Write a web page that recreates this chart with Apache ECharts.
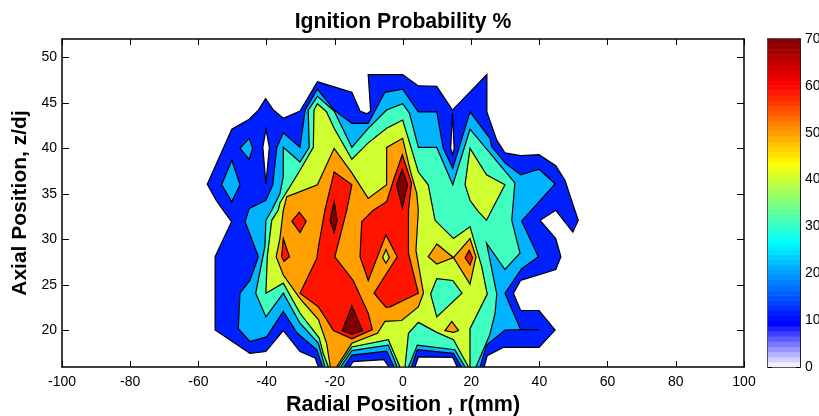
<!DOCTYPE html>
<html><head><meta charset="utf-8">
<style>html,body{margin:0;padding:0;background:#fff}#c{width:819px;height:416px}</style>
<script src="https://cdn.jsdelivr.net/npm/echarts@6/dist/echarts.min.js"></script>
</head><body><div id="c"></div>
<script>
// Contour outlines, as [r (mm), z/dj]
const level10 = [[-57.4,36.05],[-50.2,42.1],[-45.1,43.2],[-42.4,44.2],[-40.3,45.45],[-38,44.2],[-35.1,43.3],[-30.2,44.1],[-25.1,47.3],[-15,46.15],[-12.6,44.1],[-10.6,43.8],[-9.5,44.1],[-10.2,48.1],[-0.1,48.1],[4.5,46.85],[9.9,46.8],[14.5,44.2],[24.6,48.1],[24.6,44],[27.5,40.9],[29.9,39.5],[34.5,39.2],[39.9,39.3],[44.8,38.1],[47.5,36.5],[50.4,33.2],[51.4,32.1],[49.8,30.8],[44.8,33.2],[40.2,32.1],[44.8,30.1],[46.3,28.1],[44.8,26.7],[34.5,25.5],[32.4,24.1],[34.5,22.2],[39.9,22.2],[44.6,20.05],[39.9,18.15],[29.4,18.15],[24.7,17.25],[23.8,16],[15.9,16],[14.6,17.05],[4.5,17.1],[3.5,16],[-4.1,16],[-5.6,16.8],[-14.6,16.6],[-15.7,16],[-24.8,16],[-25.8,17],[-30.2,17.7],[-35.1,20],[-40.2,17.7],[-44.9,17.5],[-55.1,20.06],[-55.1,28.1],[-50.3,31.95],[-52.7,33.2],[-54.8,34.3]];
const holeA = [[-40.2,42.1],[-41.1,40.1],[-40.2,36.1],[-39.2,40.1]];
const holeB = [[14.5,43.85],[14,40],[14.6,39.3],[15,40]];
const level20 = [[-47.8,24.1],[-44.9,25.5],[-42.4,28.1],[-46.3,31.95],[-45.1,33.4],[-40.2,34.3],[-38.2,36],[-37,40.1],[-35.1,41.7],[-30.2,40.1],[-28.7,44.2],[-25.1,46.5],[-20.2,44.2],[-15,42.75],[-10.2,42.75],[-5.3,46.15],[-0.1,46.5],[4.5,44],[9.9,44],[11.8,40],[14.6,37.8],[19.65,44],[25.5,41.1],[26,40.2],[29.9,38.4],[34.5,37.1],[39.9,37.7],[44.6,36.1],[34.8,32],[39.7,28.1],[34.8,26.8],[29.9,24.1],[34.5,20.1],[39.9,20.1],[34.5,20.1],[29.9,20.06],[24.5,18.4],[22.6,16],[17.2,16],[14.8,17.5],[4.2,17.9],[2.5,16],[-2.6,16],[-4.8,17.75],[-15,17.3],[-17.3,16],[-23.6,16],[-25.3,17.9],[-31,19.7],[-35.1,22.1],[-40,19.3],[-44.9,18.8],[-48.3,20.2]];
const islandA20 = [[-50.2,38.7],[-53.2,36],[-50.2,34.15],[-47.8,36]];
const islandB20 = [[-45.1,41.1],[-47.8,40],[-45.1,38.8],[-44.1,40]];
const level30 = [[-43.2,24.1],[-40.5,29.2],[-40.2,32.1],[-38.5,33.2],[-36.1,35],[-35.1,36.9],[-35.1,40.1],[-30.2,38.5],[-27.5,40.1],[-27.8,44.2],[-25.1,45.7],[-20.2,44.1],[-15,40.1],[-10.2,42.2],[-4.8,44.2],[-0.1,44.9],[1.9,43.85],[4.5,40.1],[9.9,40.1],[14.6,36],[19.65,42.1],[32.8,36.2],[31.9,32.1],[34.3,28.5],[29.9,26.7],[24.5,29.6],[27.5,24],[27,21.9],[25.5,19.6],[21.4,16],[18.2,16],[15.2,17.9],[4.2,18.4],[1.6,16],[-1.7,16],[-4.3,18.4],[-15,17.8],[-18.3,16],[-22.9,16],[-24.8,18.6],[-30.2,20.8],[-35.1,24.1],[-40.2,21.5]];
const level40 = [[-40.2,24.1],[-39.8,28.1],[-38.5,32.1],[-36.6,33.2],[-36.1,34],[-30.2,37.6],[-26.3,40.1],[-26.1,44.2],[-25.1,44.9],[-22.4,44],[-20.2,42.2],[-15,38.8],[-10.2,40.6],[-4.8,42.2],[-0.1,43.1],[2.1,40.4],[4.5,37.4],[7.4,36],[9.4,32.1],[14.8,30.1],[19.65,31.4],[23.1,27],[24.7,24],[19.65,20.2],[19.65,16],[19.2,16],[14.8,19],[9.9,19.8],[4.5,20.9],[1.6,19.7],[0.6,16],[-0.9,16],[-4.3,19],[-15,18.2],[-19,16],[-21.9,16],[-23.4,17.5],[-24.6,19.2],[-30.2,21.9],[-35.1,25.2]];
const dip30 = [[9.9,25.7],[14.6,25.5],[17.3,24.1],[9.9,21.5],[8.1,24]];
const island40 = [[19.65,40],[24.5,37.1],[29.9,36],[26,33.2],[24.5,32.1],[21.8,33.2],[19.65,34.3],[18.2,36]];
const level50 = [[-37.2,28.1],[-36.1,30.1],[-35.1,33.2],[-34.1,34.7],[-30.2,35.25],[-25.1,36],[-20.2,40],[-15,37.3],[-10.2,34.5],[-4.8,36],[-4.8,40.1],[-0.1,41.1],[2.1,37.6],[4,35.1],[4.5,33.2],[3.8,28.8],[6,24.1],[4.5,22.6],[-0.4,21.1],[-5.3,21],[-7.5,19.7],[-15,18.6],[-19.5,16],[-21.3,16],[-22.4,18.6],[-24.8,21.2],[-30.2,23.5],[-35.1,26.1]];
const islandA50 = [[9.9,29.5],[7.4,28.1],[9.9,27.3],[14.8,28]];
const islandB50 = [[19.65,30.1],[14.8,28],[19.65,25.1],[21.4,28.1]];
const islandC50 = [[14.3,21],[12.3,20],[14.8,19.8],[16.3,20]];
const level60Left = [[-20.2,37.4],[-15,36],[-16.5,33.2],[-20,28.1],[-14.6,25.5],[-10.2,21.9],[-9,20.1],[-15,19.1],[-20.4,20],[-22.4,21.2],[-24.8,22.6],[-30.2,24.1],[-25.3,27.9],[-24.8,29.2],[-22.9,33.2]];
const level60Right = [[-12.1,31.95],[-8.7,33.2],[-4.8,34.15],[-2.8,36.5],[-0.2,39.3],[2.5,36.2],[1.6,33.2],[1.6,28.5],[4.5,24.1],[-3.8,22.6],[-5,22.55],[-8.5,24.1],[-1.7,28.1],[-5,30.5],[-10.2,25.5],[-12.6,28.1]];
const islandA60 = [[-30.4,33],[-32.6,32],[-30.2,30.75],[-28.4,32]];
const islandB60 = [[-35.1,30.1],[-35.6,28.1],[-34.9,27.6],[-33.3,28.1]];
const islandC60 = [[19.4,28.8],[18.2,28],[19.65,27.2],[20.4,28]];
const dip40 = [[-5,28.9],[-6,28],[-5,27.4],[-4,28]];
const peakA70 = [[-0.2,37.7],[-1.9,36],[-0.2,33.5],[1.3,36]];
const peakB70 = [[-20.2,34.15],[-21.4,32.1],[-20.2,30.75],[-19.3,32.1]];
const peakC70 = [[-15,22.7],[-17.8,20],[-15,19.6],[-11.9,20]];

const yTicks = [20,25,30,35,40,45,50];
const barTicks = [0,10,20,30,40,50,60,70];
// [value, r, g, b] anchor colours of the colour bar
const barStops = [[0,255,255,255],[9.4,0,0,255],[26.7,0,255,255],[43.5,255,255,0],[60.3,255,0,0],[70,128,0,0]];

const C = {white:'#ffffff',l10:'#0020ff',l20:'#00b4ff',l30:'#40ffc0',l40:'#cfff30',l50:'#ffa000',l60:'#ff1400',l70:'#800000'};
const layers = [
 [level10,C.l10],[holeA,C.white],[holeB,C.white],[islandA20,C.l20],[islandB20,C.l20],
 [level20,C.l20],[level30,C.l30],[level40,C.l40],[dip30,C.l30],[island40,C.l40],
 [level50,C.l50],[islandA50,C.l50],[islandB50,C.l50],[islandC50,C.l50],
 [level60Left,C.l60],[level60Right,C.l60],[islandA60,C.l60],[islandB60,C.l60],[islandC60,C.l60],
 [dip40,C.l40],[peakA70,C.l70],[peakB70,C.l70],[peakC70,C.l70]
];
const barSteps = 64;
function barColor(v){
  for(let i=1;i<barStops.length;i++){
    const a=barStops[i-1],b=barStops[i];
    if(v<=b[0]){const t=(v-a[0])/(b[0]-a[0]);
      return 'rgb('+[1,2,3].map(k=>Math.round(a[k]+(b[k]-a[k])*t)).join(',')+')';}
  }
  return 'rgb(128,0,0)';
}
const font='"Liberation Sans",Arial,sans-serif';
const line={lineStyle:{color:'#000',width:1.5}};
const chart=echarts.init(document.getElementById('c'),null,{renderer:'canvas'});
const xBase={type:'value',min:-100,max:100,interval:20,gridIndex:0,splitLine:{show:false},
  axisLine:{onZero:false,...line},axisTick:{inside:true,length:6,lineStyle:{color:'#000',width:1}}};
const yBase={type:'value',min:16,max:52,gridIndex:0,splitLine:{show:false},
  axisLine:{onZero:false,...line},axisTick:{inside:true,length:7,customValues:yTicks,lineStyle:{color:'#000',width:1}}};
const barEdge={type:'value',min:0,max:1,gridIndex:1,splitLine:{show:false},axisLabel:{show:false},axisTick:{show:false},
  axisLine:{onZero:false,lineStyle:{color:'#222',width:1.5}}};
chart.setOption({
  animation:false,backgroundColor:'#fff',
  title:{text:'Ignition Probability %',left:398,top:7,textAlign:'center',
    textStyle:{fontFamily:font,fontWeight:'bold',fontSize:21.2,color:'#000'}},
  grid:[{left:62,top:39,width:682,height:328,outerBoundsMode:'none'},
        {left:768,top:39,width:32,height:328,outerBoundsMode:'none'}],
  xAxis:[
    {...xBase,position:'bottom',axisLabel:{fontFamily:font,fontSize:14,color:'#000',margin:8},
     name:'Radial Position , r(mm)',nameLocation:'middle',nameGap:27,
     nameTextStyle:{fontFamily:font,fontWeight:'bold',fontSize:21.5,color:'#000'}},
    {...xBase,position:'top',axisLabel:{show:false}},
    {...barEdge,position:'bottom'},
    {...barEdge,position:'top'}
  ],
  yAxis:[
    {...yBase,position:'left',axisLabel:{fontFamily:font,fontSize:14,color:'#000',margin:5,customValues:yTicks},
     name:'Axial Position, z/dj',nameLocation:'middle',nameGap:25,nameRotate:90,
     nameTextStyle:{fontFamily:font,fontWeight:'bold',fontSize:21,color:'#000'}},
    {...yBase,position:'right',axisLabel:{show:false}},
    {type:'value',min:0,max:70,interval:10,gridIndex:1,position:'left',splitLine:{show:false},
     axisLine:{onZero:false,lineStyle:{color:'#555',width:2}},axisLabel:{show:false},
     axisTick:{inside:true,length:4,lineStyle:{color:'#000',width:1}}},
    {type:'value',min:0,max:70,interval:10,gridIndex:1,position:'right',splitLine:{show:false},
     axisLine:{onZero:false,lineStyle:{color:'#222',width:2}},
     axisLabel:{fontFamily:font,fontSize:14,color:'#000',margin:5,customValues:barTicks},
     axisTick:{inside:true,length:4,lineStyle:{color:'#000',width:1}}}
  ],
  series:[
    {type:'custom',xAxisIndex:0,yAxisIndex:0,coordinateSystem:'cartesian2d',clip:true,silent:true,z:3,
     data:layers.map((l,i)=>[l[0][0][0],l[0][0][1],i]),
     encode:{x:0,y:1},
     renderItem:function(params,api){
       const l=layers[api.value(2)];
       return {type:'polygon',shape:{points:l[0].map(p=>api.coord(p))},
         style:{fill:l[1],stroke:'#000',lineWidth:1.2,lineJoin:'miter',miterLimit:6}};
     }},
    {type:'custom',xAxisIndex:2,yAxisIndex:2,coordinateSystem:'cartesian2d',clip:true,silent:true,z:1,
     data:Array.from({length:barSteps},(_,i)=>[0,i]),
     encode:{x:0,y:1},
     renderItem:function(params,api){
       const i=api.value(1),v0=70*i/barSteps,v1=70*(i+1)/barSteps;
       const a=api.coord([0,v0]),b=api.coord([1,v1]);
       return {type:'rect',shape:{x:a[0],y:b[1],width:b[0]-a[0],height:a[1]-b[1]+0.5},
         style:{fill:barColor((v0+v1)/2),stroke:null}};
     }}
  ]
});
</script></body></html>
